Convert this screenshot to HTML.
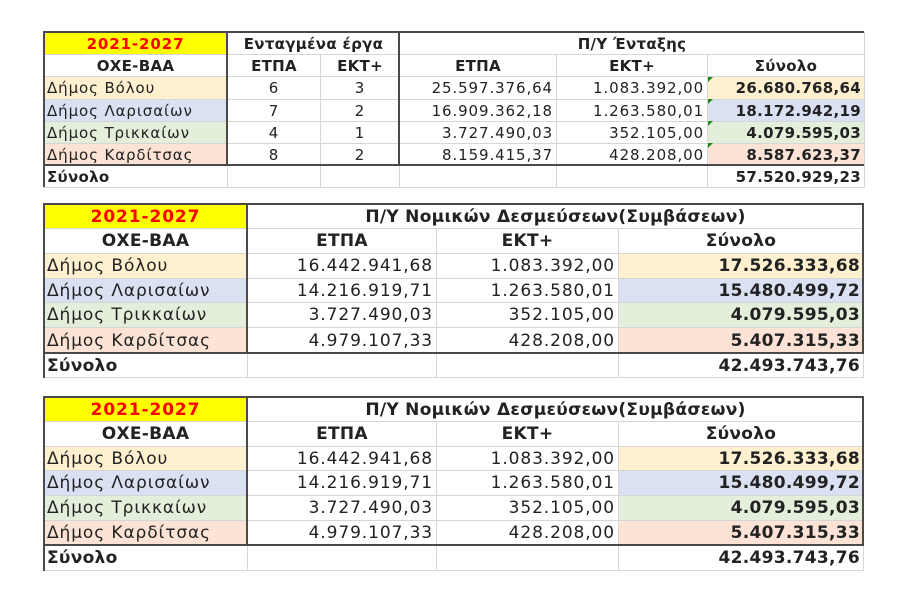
<!DOCTYPE html>
<html><head><meta charset="utf-8">
<style>
body{margin:0;width:900px;height:600px;background:#fff;position:relative;overflow:hidden;font-family:"DejaVu Sans","Liberation Sans",sans-serif;color:#222}
table{position:absolute;border-collapse:collapse;table-layout:fixed}
td{border:1px solid #d6d6d6;padding:0 3px;white-space:nowrap;overflow:hidden;line-height:14px}
.c{text-align:center}.r{text-align:right}.b{font-weight:bold}
.y{background:#ffff00;color:#ff0000;font-weight:bold;text-align:center}
.o{background:#fff1d0}.bl{background:#dae1f2}.g{background:#e3efdb}.p{background:#fce3d5}
.t1 td{font-size:15px;letter-spacing:0.9px}
.t2 td{font-size:17px;letter-spacing:0.9px}
.t1 td.b,.t2 td.b{letter-spacing:0.3px}
.ln{position:absolute;background:#4a4a4a}
.tri{position:absolute;width:0;height:0;border-top:5px solid #1a8a1a;border-right:5px solid transparent}
</style></head><body>

<table class="t1" style="left:43px;top:32px;width:821px">
<colgroup><col style="width:184px"><col style="width:93px"><col style="width:79px"><col style="width:157px"><col style="width:151px"><col style="width:157px"></colgroup>
<tr style="height:22px"><td class="y">2021-2027</td><td colspan="2" class="c b">Ενταγμένα έργα</td><td colspan="3" class="c b">Π/Υ Ένταξης</td></tr>
<tr style="height:22px"><td class="c b">ΟΧΕ-ΒΑΑ</td><td class="c b">ΕΤΠΑ</td><td class="c b">ΕΚΤ+</td><td class="c b">ΕΤΠΑ</td><td class="c b">ΕΚΤ+</td><td class="c b">Σύνολο</td></tr>
<tr style="height:23px"><td class="o">Δήμος Βόλου</td><td class="c">6</td><td class="c">3</td><td class="r">25.597.376,64</td><td class="r">1.083.392,00</td><td class="r b o">26.680.768,64</td></tr>
<tr style="height:22px"><td class="bl">Δήμος Λαρισαίων</td><td class="c">7</td><td class="c">2</td><td class="r">16.909.362,18</td><td class="r">1.263.580,01</td><td class="r b bl">18.172.942,19</td></tr>
<tr style="height:22px"><td class="g">Δήμος Τρικκαίων</td><td class="c">4</td><td class="c">1</td><td class="r">3.727.490,03</td><td class="r">352.105,00</td><td class="r b g">4.079.595,03</td></tr>
<tr style="height:22px"><td class="p">Δήμος Καρδίτσας</td><td class="c">8</td><td class="c">2</td><td class="r">8.159.415,37</td><td class="r">428.208,00</td><td class="r b p">8.587.623,37</td></tr>
<tr style="height:22px"><td class="b">Σύνολο</td><td></td><td></td><td></td><td></td><td class="r b">57.520.929,23</td></tr>
</table>
<div class="ln" style="left:43px;top:31px;width:821px;height:2px"></div>
<div class="ln" style="left:43px;top:164px;width:821px;height:2px"></div>
<div class="ln" style="left:43px;top:31px;width:2px;height:135px"></div>
<div class="ln" style="left:226px;top:31px;width:2px;height:135px"></div>
<div class="ln" style="left:398px;top:31px;width:2px;height:135px"></div>
<div class="ln" style="left:43px;top:164px;width:2px;height:23px"></div>
<div class="tri" style="left:708px;top:77px"></div>
<div class="tri" style="left:708px;top:99px"></div>
<div class="tri" style="left:708px;top:121px"></div>
<div class="tri" style="left:708px;top:143px"></div>

<table class="t2" style="left:43px;top:204px;width:820px">
<colgroup><col style="width:204px"><col style="width:189px"><col style="width:182px"><col style="width:245px"></colgroup>
<tr style="height:24px"><td class="y">2021-2027</td><td colspan="3" class="c b">Π/Υ Νομικών Δεσμεύσεων(Συμβάσεων)</td></tr>
<tr style="height:25px"><td class="c b">ΟΧΕ-ΒΑΑ</td><td class="c b">ΕΤΠΑ</td><td class="c b">ΕΚΤ+</td><td class="c b">Σύνολο</td></tr>
<tr style="height:25px"><td class="o">Δήμος Βόλου</td><td class="r">16.442.941,68</td><td class="r">1.083.392,00</td><td class="r b o">17.526.333,68</td></tr>
<tr style="height:24px"><td class="bl">Δήμος Λαρισαίων</td><td class="r">14.216.919,71</td><td class="r">1.263.580,01</td><td class="r b bl">15.480.499,72</td></tr>
<tr style="height:25px"><td class="g">Δήμος Τρικκαίων</td><td class="r">3.727.490,03</td><td class="r">352.105,00</td><td class="r b g">4.079.595,03</td></tr>
<tr style="height:26px"><td class="p">Δήμος Καρδίτσας</td><td class="r">4.979.107,33</td><td class="r">428.208,00</td><td class="r b p">5.407.315,33</td></tr>
<tr style="height:24px"><td class="b">Σύνολο</td><td></td><td></td><td class="r b">42.493.743,76</td></tr>
</table>
<div class="ln" style="left:43px;top:203px;width:820px;height:2px"></div>
<div class="ln" style="left:43px;top:352px;width:820px;height:2px"></div>
<div class="ln" style="left:43px;top:203px;width:2px;height:175px"></div>
<div class="ln" style="left:246px;top:203px;width:2px;height:151px"></div>
<div class="ln" style="left:862px;top:203px;width:2px;height:151px"></div>

<table class="t2" style="left:43px;top:397px;width:820px">
<colgroup><col style="width:204px"><col style="width:189px"><col style="width:182px"><col style="width:245px"></colgroup>
<tr style="height:24px"><td class="y">2021-2027</td><td colspan="3" class="c b">Π/Υ Νομικών Δεσμεύσεων(Συμβάσεων)</td></tr>
<tr style="height:25px"><td class="c b">ΟΧΕ-ΒΑΑ</td><td class="c b">ΕΤΠΑ</td><td class="c b">ΕΚΤ+</td><td class="c b">Σύνολο</td></tr>
<tr style="height:24px"><td class="o">Δήμος Βόλου</td><td class="r">16.442.941,68</td><td class="r">1.083.392,00</td><td class="r b o">17.526.333,68</td></tr>
<tr style="height:25px"><td class="bl">Δήμος Λαρισαίων</td><td class="r">14.216.919,71</td><td class="r">1.263.580,01</td><td class="r b bl">15.480.499,72</td></tr>
<tr style="height:25px"><td class="g">Δήμος Τρικκαίων</td><td class="r">3.727.490,03</td><td class="r">352.105,00</td><td class="r b g">4.079.595,03</td></tr>
<tr style="height:25px"><td class="p">Δήμος Καρδίτσας</td><td class="r">4.979.107,33</td><td class="r">428.208,00</td><td class="r b p">5.407.315,33</td></tr>
<tr style="height:25px"><td class="b">Σύνολο</td><td></td><td></td><td class="r b">42.493.743,76</td></tr>
</table>
<div class="ln" style="left:43px;top:396px;width:820px;height:2px"></div>
<div class="ln" style="left:43px;top:544px;width:820px;height:2px"></div>
<div class="ln" style="left:43px;top:396px;width:2px;height:175px"></div>
<div class="ln" style="left:246px;top:396px;width:2px;height:150px"></div>
<div class="ln" style="left:862px;top:396px;width:2px;height:150px"></div>
</body></html>
